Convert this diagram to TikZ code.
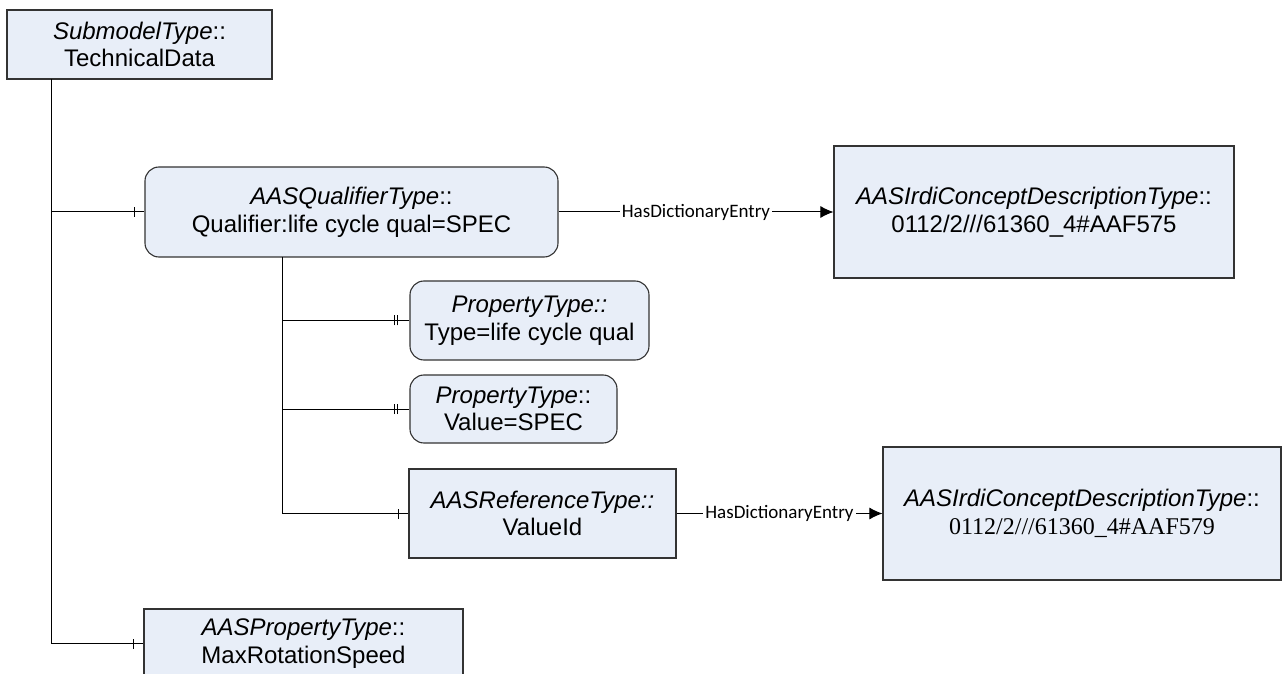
\documentclass[tikz,border=0pt]{standalone}
\usepackage{fontspec}
\setmainfont{Liberation Sans}
\newfontfamily\labelfont{Carlito}
\newfontfamily\idfont{Liberation Serif}
\usepackage{tikz}
\usetikzlibrary{positioning, arrows.meta}

\definecolor{boxfill}{HTML}{E8EEF8}
\definecolor{boxline}{HTML}{333333}

\begin{document}
\begin{tikzpicture}[
		x=0.5pt,
		y=-0.5pt,
		font=\fontsize{12}{13.8}\selectfont,
		box/.style={draw=boxline, fill=boxfill, line width=0.55pt, align=center, inner sep=0pt},
		roundbox/.style={box, rounded corners=7pt},
		conn/.style={line width=0.5pt},
		dict/.style={conn, -{Latex[length=6.5pt, width=6pt]}},
		edgelabel/.style={fill=white, inner xsep=1pt, inner ysep=0pt, font=\labelfont\fontsize{9.5}{11}\selectfont}
		]
		\useasboundingbox (0,0) rectangle (1282,674);
		
		% Submodel
		\node[box, minimum width=132.5pt, minimum height=34.5pt] (sub) at (139.5,44.5) {\textit{SubmodelType}::\\TechnicalData};
		
		% Qualifier and its concept description
		\node[roundbox, minimum width=206.5pt, minimum height=45pt] (qual) at (351.5,212) {\textit{AASQualifierType}::\\Qualifier:life cycle qual=SPEC};
		\node[box, minimum width=200pt, minimum height=66pt] (irdia) at (1034,212) {\textit{AASIrdiConceptDescriptionType}::\\0112/2///61360\_4\#AAF575};
		
		% Qualifier parts
		\node[roundbox, minimum width=119.5pt, minimum height=39.5pt] (proptype) at (529.5,320.5) {\textit{PropertyType::}\\Type=life cycle qual};
		\node[roundbox, minimum width=103.5pt, minimum height=34pt] (propvalue) at (513.5,409) {\textit{PropertyType}::\\Value=SPEC};
		\node[box, minimum width=133.5pt, minimum height=44.5pt] (valueid) at (542.5,513.5) {\textit{AASReferenceType::}\\ValueId};
		\node[box, minimum width=199pt, minimum height=66.5pt] (irdib) at (1082,513.5) {\textit{AASIrdiConceptDescriptionType}::\\{\idfont 0112/2///61360\_4\#AAF579}};
		
		% Property
		\node[box, minimum width=159.5pt, minimum height=34.5pt] (maxrot) at (303.5,643.5) {\textit{AASPropertyType}::\\MaxRotationSpeed};
		
		% Tree lines
		\coordinate (trunk) at (51,79);
		\coordinate (branch) at (282,257);
		\draw[conn] (trunk) |- (qual.west);
		\draw[conn] (trunk) |- (maxrot.west);
		\draw[conn] (branch) |- (proptype.west);
		\draw[conn] (branch) |- (propvalue.west);
		\draw[conn] (branch) |- (valueid.west);
		
		% Multiplicity ticks
		\foreach \n in {qual, valueid, maxrot}
			\draw[conn] ([xshift=-5pt]\n.west) ++(0,5) -- ++(0,-10);
		\foreach \n in {proptype, propvalue}
			\foreach \s in {-6pt, -7.5pt}
				\draw[conn] ([xshift=\s]\n.west) ++(0,5) -- ++(0,-10);
		
		% Dictionary entries
		\draw[dict] (qual.east) -- node[edgelabel] {HasDictionaryEntry} (irdia.west);
		\draw[dict] (valueid.east) -- node[edgelabel] {HasDictionaryEntry} (irdib.west);
	\end{tikzpicture}
\end{document}
